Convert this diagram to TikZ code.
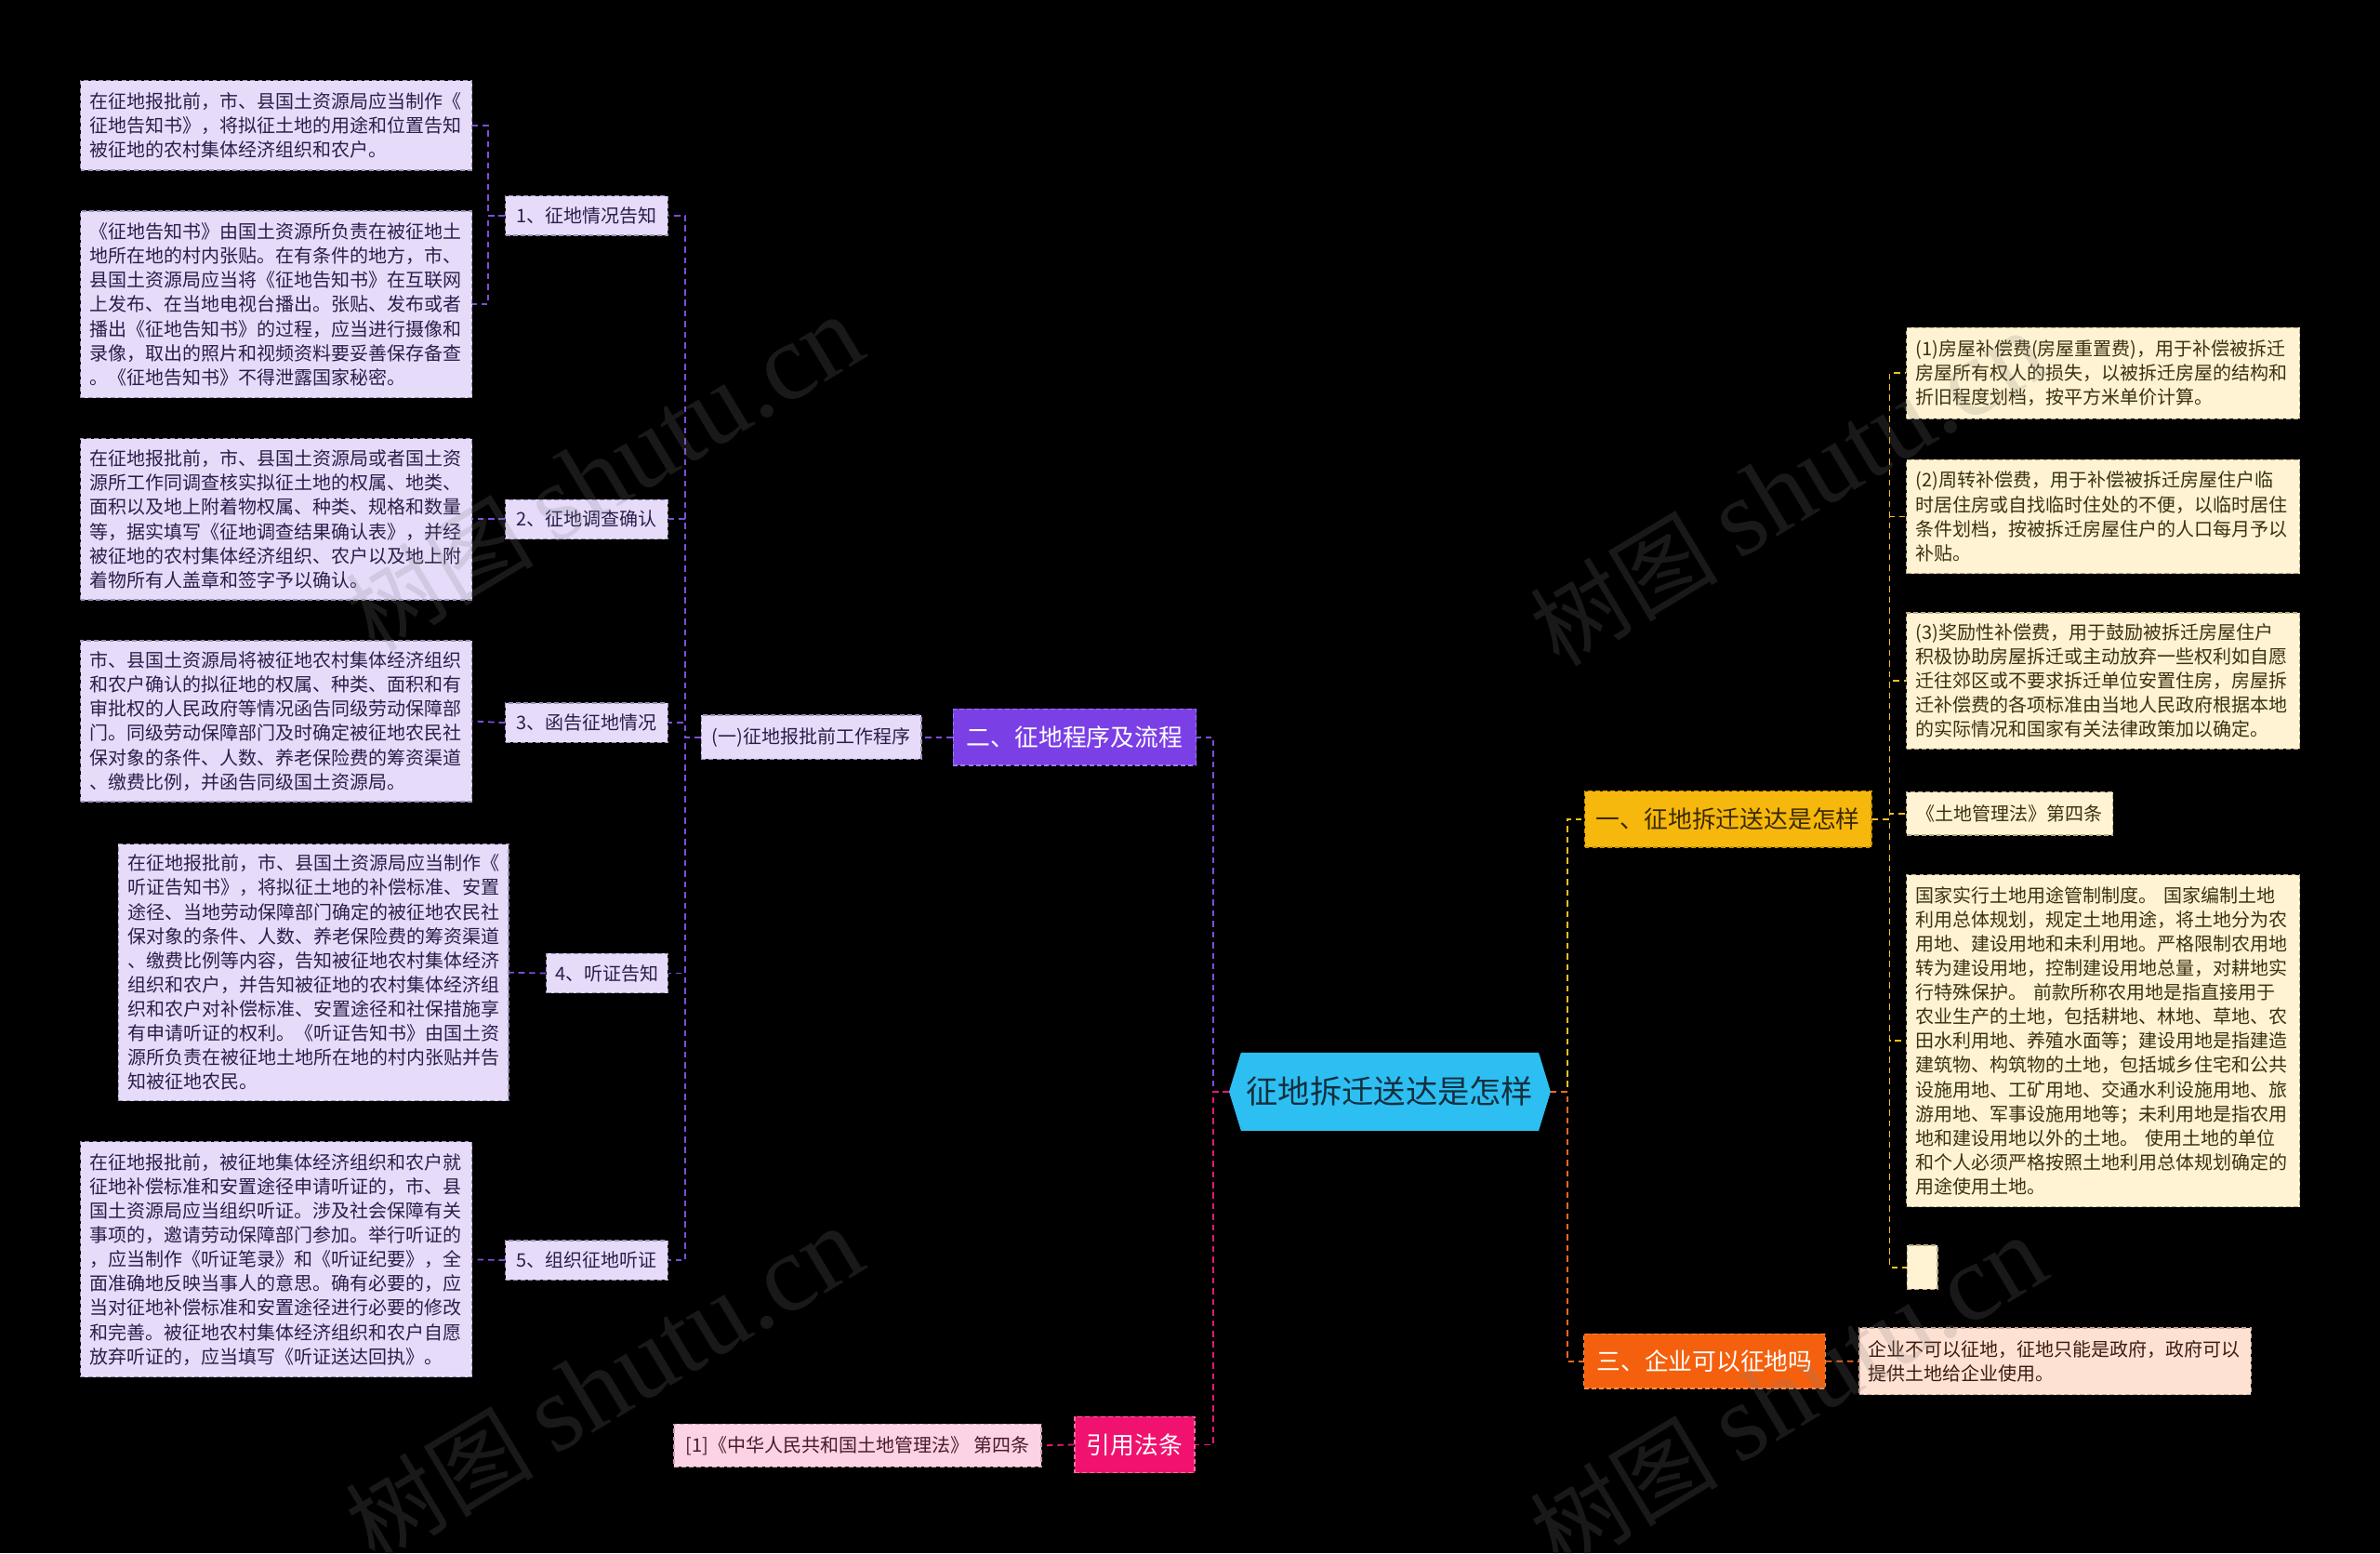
\documentclass[tikz,border=0pt]{standalone}
\usepackage{fontspec}
\newfontfamily\cjk{Noto Sans CJK SC}
\newfontfamily\wmlat{Liberation Serif}
\definecolor{lavfill}{HTML}{E6DCFA}
\definecolor{lavdraw}{HTML}{9D90B8}
\definecolor{lavtext}{HTML}{2B1E4A}
\definecolor{purp}{HTML}{7B3FE6}
\definecolor{purpdraw}{HTML}{A07CF0}
\definecolor{conpurp}{HTML}{7C4FDC}
\definecolor{pinkmain}{HTML}{F0126E}
\definecolor{pinkdraw}{HTML}{F86AA6}
\definecolor{pinkleaf}{HTML}{FCD3E4}
\definecolor{pinkleafdraw}{HTML}{C9A0B2}
\definecolor{pinktext}{HTML}{4A1A2C}
\definecolor{conpink}{HTML}{E8177A}
\definecolor{cyanfill}{HTML}{2DBFF2}
\definecolor{cyantext}{HTML}{12303F}
\definecolor{yelmain}{HTML}{F6B80C}
\definecolor{yeldraw}{HTML}{C99400}
\definecolor{yeltext}{HTML}{3B2A00}
\definecolor{conyel}{HTML}{F3C020}
\definecolor{cream}{HTML}{FFF3D3}
\definecolor{creamdraw}{HTML}{B8AC8A}
\definecolor{creamtext}{HTML}{3A3212}
\definecolor{orgmain}{HTML}{F5600E}
\definecolor{orgdraw}{HTML}{F89050}
\definecolor{conorg}{HTML}{F26B1C}
\definecolor{peach}{HTML}{FDE1D3}
\definecolor{peachdraw}{HTML}{C8A898}
\definecolor{peachtext}{HTML}{3E1C10}
\tikzset{
  bx/.style={font=\cjk\fontsize{12.25}{16}\selectfont, inner ysep=0pt, line width=0.8pt, dash pattern=on 3pt off 2pt},
  lav/.style={bx, fill=lavfill, draw=lavdraw, text=lavtext},
  crm/.style={bx, fill=cream, draw=creamdraw, text=creamtext},
  para/.style={align=left, inner xsep=6pt},
  lbl/.style={inner xsep=0pt, align=center},
  mainbx/.style={font=\cjk\fontsize{15.8}{18}\selectfont, inner sep=0pt, line width=0.8pt, dash pattern=on 3pt off 2pt, minimum height=37pt},
  con/.style={line width=1.1pt, dash pattern=on 4pt off 3pt},
  wm/.style={rotate=31, text=gray, opacity=0.2, inner sep=0pt}
}
\begin{document}
\begin{tikzpicture}[x=1pt,y=-1pt]
\useasboundingbox (0,0) rectangle (1568,1023);
\fill[black] (0,0) rectangle (1568,1023);

% central hexagon
\coordinate (hexL) at (809.7,719);
\coordinate (hexR) at (1021.6,719);
\fill[cyanfill] (hexL) -- (817.6,693.3) -- (1013.7,693.3) -- (hexR) -- (1013.7,744.7) -- (817.6,744.7) -- cycle;
\node[font=\cjk\fontsize{21}{24}\selectfont, text=cyantext, inner sep=0pt] (ctr) at (915.6,719) {征地拆迁送达是怎样};

% main branches
\node[mainbx, fill=purp, draw=purpdraw, text=white, minimum width=160pt] (p2) at (708,485.5) {二、征地程序及流程};
\node[mainbx, fill=pinkmain, draw=pinkdraw, text=white, minimum width=79pt] (cite) at (747.5,951.5) {引用法条};
\node[mainbx, fill=yelmain, draw=yeldraw, text=yeltext, minimum width=189pt] (p1) at (1138.5,539.5) {一、征地拆迁送达是怎样};
\node[mainbx, fill=orgmain, draw=orgdraw, text=white, minimum width=159pt, minimum height=36pt] (p3) at (1123,896.5) {三、企业可以征地吗};

% left: sub-branch
\node[lav, lbl, minimum width=145pt, minimum height=29pt] (s1) at (534.5,485.5) {(一)征地报批前工作程序};
\node[lav, lbl, minimum width=107pt, minimum height=26pt] (n1) at (386.5,142) {1、征地情况告知};
\node[lav, lbl, minimum width=107pt, minimum height=26pt] (n2) at (386.5,342) {2、征地调查确认};
\node[lav, lbl, minimum width=107pt, minimum height=26pt] (n3) at (386.5,476) {3、函告征地情况};
\node[lav, lbl, minimum width=80pt, minimum height=26pt] (n4) at (400,641) {4、听证告知};
\node[lav, lbl, minimum width=107pt, minimum height=26pt] (n5) at (386.5,830) {5、组织征地听证};

% left leaves
\node[lav, para, text width=246pt, minimum height=59pt] (l1a) at (182,82.5) {在征地报批前，市、县国土资源局应当制作《\\征地告知书》，将拟征土地的用途和位置告知\\被征地的农村集体经济组织和农户。};
\node[lav, para, text width=246pt, minimum height=123pt] (l1b) at (182,200.5) {《征地告知书》由国土资源所负责在被征地土\\地所在地的村内张贴。在有条件的地方，市、\\县国土资源局应当将《征地告知书》在互联网\\上发布、在当地电视台播出。张贴、发布或者\\播出《征地告知书》的过程，应当进行摄像和\\录像，取出的照片和视频资料要妥善保存备查\\。《征地告知书》不得泄露国家秘密。};
\node[lav, para, text width=246pt, minimum height=106pt] (l2) at (182,342) {在征地报批前，市、县国土资源局或者国土资\\源所工作同调查核实拟征土地的权属、地类、\\面积以及地上附着物权属、种类、规格和数量\\等，据实填写《征地调查结果确认表》，并经\\被征地的农村集体经济组织、农户以及地上附\\着物所有人盖章和签字予以确认。};
\node[lav, para, text width=246pt, minimum height=106pt] (l3) at (182,475) {市、县国土资源局将被征地农村集体经济组织\\和农户确认的拟征地的权属、种类、面积和有\\审批权的人民政府等情况函告同级劳动保障部\\门。同级劳动保障部门及时确定被征地农民社\\保对象的条件、人数、养老保险费的筹资渠道\\、缴费比例，并函告同级国土资源局。};
\node[lav, para, text width=245pt, minimum height=169pt] (l4) at (206.5,640.5) {在征地报批前，市、县国土资源局应当制作《\\听证告知书》，将拟征土地的补偿标准、安置\\途径、当地劳动保障部门确定的被征地农民社\\保对象的条件、人数、养老保险费的筹资渠道\\、缴费比例等内容，告知被征地农村集体经济\\组织和农户，并告知被征地的农村集体经济组\\织和农户对补偿标准、安置途径和社保措施享\\有申请听证的权利。《听证告知书》由国土资\\源所负责在被征地土地所在地的村内张贴并告\\知被征地农民。};
\node[lav, para, text width=246pt, minimum height=155pt] (l5) at (182,829.5) {在征地报批前，被征地集体经济组织和农户就\\征地补偿标准和安置途径申请听证的，市、县\\国土资源局应当组织听证。涉及社会保障有关\\事项的，邀请劳动保障部门参加。举行听证的\\，应当制作《听证笔录》和《听证纪要》，全\\面准确地反映当事人的意思。确有必要的，应\\当对征地补偿标准和安置途径进行必要的修改\\和完善。被征地农村集体经济组织和农户自愿\\放弃听证的，应当填写《听证送达回执》。};

% citation leaf
\node[bx, lbl, fill=pinkleaf, draw=pinkleafdraw, text=pinktext, minimum width=242pt, minimum height=28pt] (c1) at (565,952) {[1]《中华人民共和国土地管理法》 第四条};

% right leaves
\node[crm, para, text width=247pt, minimum height=60pt] (r1) at (1385.5,245.8) {(1)房屋补偿费(房屋重置费)，用于补偿被拆迁\\房屋所有权人的损失，以被拆迁房屋的结构和\\折旧程度划档，按平方米单价计算。};
\node[crm, para, text width=247pt, minimum height=75pt] (r2) at (1385.5,340.2) {(2)周转补偿费，用于补偿被拆迁房屋住户临\\时居住房或自找临时住处的不便，以临时居住\\条件划档，按被拆迁房屋住户的人口每月予以\\补贴。};
\node[crm, para, text width=247pt, minimum height=89.5pt] (r3) at (1385.5,448.4) {(3)奖励性补偿费，用于鼓励被拆迁房屋住户\\积极协助房屋拆迁或主动放弃一些权利如自愿\\迁往郊区或不要求拆迁单位安置住房，房屋拆\\迁补偿费的各项标准由当地人民政府根据本地\\的实际情况和国家有关法律政策加以确定。};
\node[crm, lbl, minimum width=136pt, minimum height=28.5pt] (r4) at (1324,535.8) {《土地管理法》第四条};
\node[crm, para, text width=247pt, minimum height=218.5pt] (r5) at (1385.5,685.5) {国家实行土地用途管制制度。 国家编制土地\\利用总体规划，规定土地用途，将土地分为农\\用地、建设用地和未利用地。严格限制农用地\\转为建设用地，控制建设用地总量，对耕地实\\行特殊保护。 前款所称农用地是指直接用于\\农业生产的土地，包括耕地、林地、草地、农\\田水利用地、养殖水面等；建设用地是指建造\\建筑物、构筑物的土地，包括城乡住宅和公共\\设施用地、工矿用地、交通水利设施用地、旅\\游用地、军事设施用地等；未利用地是指农用\\地和建设用地以外的土地。 使用土地的单位\\和个人必须严格按照土地利用总体规划确定的\\用途使用土地。};
\node[crm, inner sep=0pt, minimum width=20pt, minimum height=29pt] (r6) at (1266.4,834.7) {};
\node[bx, para, fill=peach, draw=peachdraw, text=peachtext, text width=246pt, minimum height=44pt] (q1) at (1354,896.6) {企业不可以征地，征地只能是政府，政府可以\\提供土地给企业使用。};

% connectors
\draw[con, draw=conpurp] (hexL) -- ++(-10.5,0) |- (p2.east);
\draw[con, draw=conpink] (hexL) -- ++(-10.5,0) |- (cite.east);
\draw[con, draw=conyel] (hexR) -- ++(11,0) |- (p1.west);
\draw[con, draw=conorg] (hexR) -- ++(11,0) |- (p3.west);
\draw[con, draw=conpurp] (p2.west) -- (s1.east);
\foreach \n in {n1,n2,n3,n4,n5} \draw[con, draw=conpurp] (s1.west) -- ++(-10,0) |- (\n.east);
\draw[con, draw=conpurp] (n1.west) -- ++(-11,0) |- (l1a.east);
\draw[con, draw=conpurp] (n1.west) -- ++(-11,0) |- (l1b.east);
\draw[con, draw=conpurp] (n2.west) -- (l2.east);
\draw[con, draw=conpurp] (n3.west) -- (l3.east);
\draw[con, draw=conpurp] (n4.west) -- (l4.east);
\draw[con, draw=conpurp] (n5.west) -- (l5.east);
\draw[con, draw=conpink] (cite.west) -- (c1.east);
\foreach \r in {r1,r2,r3,r4,r5,r6} \draw[con, draw=conyel] (p1.east) -- ++(11.5,0) |- (\r.west);
\draw[con, draw=conorg] (p3.east) -- (q1.west);

% watermarks
\node[wm] (wm1) at (398,312) {\cjk\fontsize{62}{62}\selectfont 树图 \wmlat\fontsize{72}{72}\selectfont shutu.cn};
\node[wm] (wm2) at (1178,322) {\cjk\fontsize{62}{62}\selectfont 树图 \wmlat\fontsize{72}{72}\selectfont shutu.cn};
\node[wm] (wm3) at (398,912) {\cjk\fontsize{62}{62}\selectfont 树图 \wmlat\fontsize{72}{72}\selectfont shutu.cn};
\node[wm] (wm4) at (1178,918) {\cjk\fontsize{62}{62}\selectfont 树图 \wmlat\fontsize{72}{72}\selectfont shutu.cn};
\end{tikzpicture}
\end{document}
